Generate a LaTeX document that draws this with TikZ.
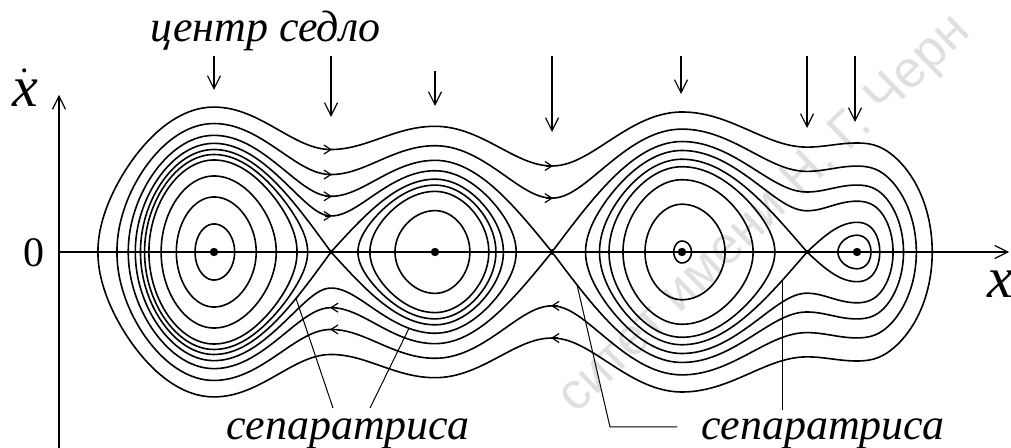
\documentclass[tikz,border=0pt]{standalone}
\usepackage{fontspec}
\setmainfont{Liberation Serif}
\newfontfamily\wmfont{Liberation Sans}
\usetikzlibrary{arrows.meta}

%% ── Potential: four wells, three saddles (1 unit = 10px) ──────────────────
\newcommand\potseg[4]{\pgfmathparse{#3+(#4-#3)*(1-cos(180*(\vx-#1)/(#2-#1)))/2}}
\pgfmathdeclarefunction{Vp}{1}{%
  \begingroup
  \def\vx{#1}%
  \ifdim\vx pt<21.4pt
    \pgfmathparse{(21.4-\vx)^2*(2.2-0.00476*(21.4-\vx)^2)}%
  \else\ifdim\vx pt<33.1pt \potseg{21.4}{33.1}{0}{105}%
  \else\ifdim\vx pt<43.5pt \potseg{33.1}{43.5}{105}{52}%
  \else\ifdim\vx pt<55.2pt \potseg{43.5}{55.2}{52}{136}%
  \else\ifdim\vx pt<68.2pt \potseg{55.2}{68.2}{136}{14}%
  \else\ifdim\vx pt<80.7pt \potseg{68.2}{80.7}{14}{100}%
  \else\ifdim\vx pt<85.7pt \potseg{80.7}{85.7}{100}{91.2}%
  \else
    \pgfmathparse{91.2+(\vx-85.7)^2*(2.1-0.9*exp(-min(((\vx-85.7)/2.5)^2,9)))}%
  \fi\fi\fi\fi\fi\fi\fi
  \pgfmathsmuggle\pgfmathresult
  \endgroup}

%% turning point of level #2 between #3 and #4 (bisection)
\newcommand\findturn[4]{%
  \xdef\tlo{#3}\xdef\thi{#4}%
  \pgfmathparse{#2-Vp(#3)}%
  \ifdim\pgfmathresult pt>0pt \gdef\sgnlo{1}\else\gdef\sgnlo{0}\fi
  \foreach \k in {1,...,20}{%
    \pgfmathparse{(\tlo+\thi)/2}\xdef\tmid{\pgfmathresult}%
    \pgfmathparse{#2-Vp(\tmid)}%
    \ifdim\pgfmathresult pt>0pt \def\sgnmid{1}\else\def\sgnmid{0}\fi
    \ifx\sgnmid\sgnlo \xdef\tlo{\tmid}\else\xdef\thi{\tmid}\fi
  }%
  \xdef#1{\tmid}}

%% closed phase curve y^2 = E - V(x)
\newcommand\orbit[6][200]{%
  \findturn\xleft{#2}{#3}{#4}%
  \findturn\xright{#2}{#5}{#6}%
  \pgfmathsetmacro\xm{(\xleft+\xright)/2}%
  \pgfmathsetmacro\hw{(\xright-\xleft)/2}%
  \draw[level, samples=#1]
    plot[domain=0:180] ({\xm-\hw*cos(\t)}, {sqrt(max(0,#2-Vp(\xm-\hw*cos(\t))))})
    -- plot[domain=180:360] ({\xm-\hw*cos(\t)}, {-sqrt(max(0,#2-Vp(\xm-\hw*cos(\t))))})
    -- cycle;}

\begin{document}
\begin{tikzpicture}[
  x=5pt, y=5pt,
  >={Straight Barb[length=6.5pt,width=6.5pt]},
  level/.style={line width=0.8pt, line join=round, variable=\t},
  axis/.style={->, line width=0.6pt},
  pointer/.style={->, line width=0.6pt},
  flow/.style={-{Straight Barb[length=3.5pt,width=4.5pt]}, line width=0.6pt},
  leader/.style={line width=0.5pt},
  lbl/.style={font={\fontsize{22}{26}\selectfont\itshape}, inner sep=0pt},
  axlbl/.style={font={\fontsize{29}{32}\selectfont}, inner sep=0pt},
  wm/.style={font={\wmfont\fontsize{26}{30}\selectfont}, text=gray!25,
    rotate=44, inner sep=0pt},
]
\useasboundingbox (0,-19.6) rectangle (101.1,25.2);

%% ── Watermark ─────────────────────────────────────────────────────────────
\node[wm, anchor=base east] (wmA) at (78.9,4.27) {ситет имени};
\node[wm, anchor=base west] (wmB) at (80.0,5.28) {Н. Г. Черн};

%% ── Axes ──────────────────────────────────────────────────────────────────
\draw[axis] (5.9,-19.6) -- (5.9,15.7);
\draw[axis] (5.9,0) -- (100.9,0);
\node[axlbl, anchor=base] (xdot) at (2.5,14.5) {$\dot{\mbox{\itshape x}}$};
\node[font={\fontsize{21}{24}\selectfont}, inner sep=0pt, anchor=base] (zero) at (3.4,-1.5) {0};
\node[axlbl, anchor=base] (xlab) at (100.0,-4.6) {\itshape x};

%% ── Orbits inside the wells ──────────────────────────────────────────────
\orbit[100]{7.84}{7}{21.4}{21.4}{33.1}
\orbit[120]{30.25}{7}{21.4}{21.4}{33.1}
\orbit[140]{57.76}{7}{21.4}{21.4}{33.1}
\orbit[160]{84.64}{7}{21.4}{21.4}{33.1}
\orbit[160]{95}{7}{21.4}{21.4}{33.1}
\orbit[120]{69.1}{33.1}{43.5}{43.5}{55.2}
\orbit[120]{88.7}{33.1}{43.5}{43.5}{55.2}
\orbit[120]{96.7}{33.1}{43.5}{43.5}{55.2}
\orbit[60]{15.2}{55.2}{68.2}{68.2}{80.7}
\orbit[120]{36.8}{55.2}{68.2}{68.2}{80.7}
\orbit[140]{66.2}{55.2}{68.2}{68.2}{80.7}
\orbit[160]{86.7}{55.2}{68.2}{68.2}{80.7}
\orbit[80]{94}{80.7}{85.7}{85.7}{97}

%% ── Separatrices and outer levels ────────────────────────────────────────
\orbit[300]{105}{7}{21.4}{43.5}{55.2}
\orbit[240]{118}{7}{21.4}{43.5}{55.2}
\orbit[300]{100}{55.2}{68.2}{85.7}{97}
\orbit[240]{117}{55.2}{68.2}{85.7}{97}
\orbit[400]{136}{7}{21.4}{85.7}{97}
\orbit[300]{165}{7}{21.4}{85.7}{97}
\orbit[300]{210}{7}{21.4}{85.7}{97}

%% ── Centres and saddles ──────────────────────────────────────────────────
\foreach \c in {21.4,43.5,68.2,85.7} \fill (\c,0) circle (0.42);
\foreach \c in {33.1,55.2,80.7} \fill (\c,0) circle (0.22);

%% ── Flow direction ───────────────────────────────────────────────────────
\foreach \en in {210,165,136,118}
  \draw[flow] ({32.5},{sqrt(\en-105)}) -- ({33.2},{sqrt(\en-105)});
\foreach \en in {165,136}
  \draw[flow] ({33.7},{-sqrt(\en-105)}) -- ({33.0},{-sqrt(\en-105)});
\foreach \en in {210,165}
  \draw[flow] ({54.6},{sqrt(\en-136)}) -- ({55.3},{sqrt(\en-136)});
\foreach \en in {210,165}
  \draw[flow] ({55.8},{-sqrt(\en-136)}) -- ({55.1},{-sqrt(\en-136)});

%% ── Labels on top ────────────────────────────────────────────────────────
\node[lbl, anchor=base] (cs) at (26.55,21.0) {центр седло};
\foreach \px/\ya/\yb in {21.4/19.6/16.2, 33.1/19.6/13.5, 43.5/18.1/14.6,
    55.2/19.6/12.0, 68.1/19.6/15.8, 80.7/19.6/12.4, 85.5/19.6/13.0}
  \draw[pointer] (\px,\ya) -- (\px,\yb);

%% ── Separatrix labels ────────────────────────────────────────────────────
\node[lbl, anchor=base] (sepL) at (34.8,-18.8) {сепаратриса};
\node[lbl, anchor=base] (sepR) at (82.3,-18.8) {сепаратриса};
\pgfmathsetmacro\ya{-sqrt(max(0,105-Vp(29.6)))}
\pgfmathsetmacro\yb{-sqrt(max(0,118-Vp(40.9)))}
\pgfmathsetmacro\yc{-sqrt(max(0,136-Vp(57.7)))}
\pgfmathsetmacro\yd{-sqrt(max(0,100-Vp(78.2)))}
\coordinate (pa) at (29.6,\ya);
\coordinate (pb) at (40.9,\yb);
\coordinate (pc) at (57.7,\yc);
\coordinate (pd) at (78.2,\yd);
\coordinate (qa) at (33.3,-15.6);
\coordinate (qb) at (37.0,-15.6);
\coordinate (qc) at (67.7,-17.5);
\coordinate (qd) at (78.2,-15.8);
\draw[leader] (qa) -- (pa);
\draw[leader] (qb) -- (pb);
\draw[leader] (qc) -- (61.0,-17.5) -- (pc);
\draw[leader] (qd) -- (pd);

\end{tikzpicture}
\end{document}
